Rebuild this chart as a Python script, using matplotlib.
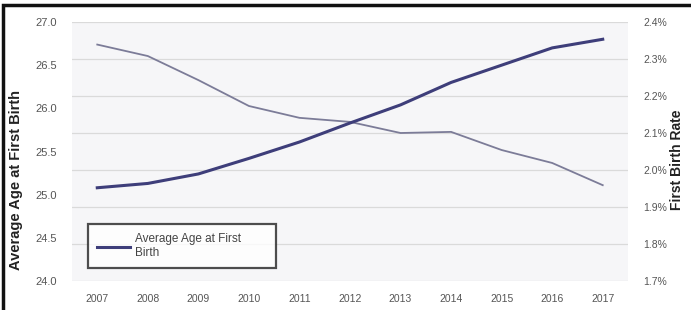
import matplotlib
import matplotlib.pyplot as plt
from matplotlib.patches import Rectangle
from matplotlib.ticker import FuncFormatter

years = [2007, 2008, 2009, 2010, 2011, 2012, 2013, 2014, 2015, 2016, 2017]
avg_age = [25.08, 25.13, 25.24, 25.42, 25.61, 25.83, 26.04, 26.30, 26.50, 26.70, 26.80]
birth_rate = [2.339, 2.308, 2.243, 2.173, 2.141, 2.130, 2.100, 2.103, 2.054, 2.019, 1.959]

age_ticks = [24.0, 24.5, 25.0, 25.5, 26.0, 26.5, 27.0]
rate_ticks = [1.7, 1.8, 1.9, 2.0, 2.1, 2.2, 2.3, 2.4]

plt.rcParams['font.family'] = ['Liberation Sans', 'DejaVu Sans']
label_color = '#555555'
W, H = 691.0, 310.0

fig = plt.figure(figsize=(6.91, 3.10), dpi=100)
ax = fig.add_axes([72 / W, 29 / H, 556 / W, 259 / H])
ax2 = ax.twinx()

# thin line: first birth rate on the right axis
ax2.plot(years, birth_rate, color='#7c7c98', linewidth=1.3)
ax2.set_ylim(1.7, 2.4)
ax2.set_yticks(rate_ticks)
ax2.yaxis.set_major_formatter(FuncFormatter(lambda v, p : f"{v:.1f}%"))
ax2.grid(True, color='#dadada', linewidth=0.9)
ax2.set_axisbelow(True)
ax2.patch.set_visible(True)
ax2.patch.set_facecolor('#f6f6f8')

# thick line: average age on the left axis
line, = ax.plot(years, avg_age, color='#3e3e7a', linewidth=2.2, zorder=5)
ax.set_zorder(ax2.get_zorder() + 1)
ax.patch.set_visible(False)
ax.set_ylim(24.0, 27.0)
ax.set_yticks(age_ticks)
ax.yaxis.set_major_formatter(FuncFormatter(lambda v, p : f"{v:.1f}"))
ax.set_xlim(2006.5, 2017.5)
ax.set_xticks(years)

for a in (ax, ax2) :
    for s in a.spines.values() :
        s.set_visible(False)
    a.tick_params(length=0, labelsize=7.5, labelcolor=label_color)
ax.tick_params(axis='x', pad=9)
ax.tick_params(axis='y', pad=11, labelsize=8)
ax2.tick_params(axis='y', pad=11)

leg = ax.legend([line], ['Average Age at First\nBirth'], loc='lower left',
                bbox_to_anchor=(16 / 556, 13 / 259, 188 / 556, 0.2), mode='expand',
                fontsize=8.5, frameon=True, fancybox=False, edgecolor='#222222',
                handlelength=2.8, handletextpad=0.4, borderpad=0.75,
                labelspacing=0.2, borderaxespad=0)
leg.get_frame().set_linewidth(1.6)
leg.get_frame().set_facecolor('white')
for t in leg.get_texts() :
    t.set_color('#444444')

fig.text(16 / W, 1 - 180 / H, 'Average Age at First Birth', rotation=90,
         ha='center', va='center', fontsize=10.5, fontweight='bold', color='#222222')
fig.text(677 / W, 1 - 160 / H, 'First Birth Rate', rotation=90,
         ha='center', va='center', fontsize=10, fontweight='bold', color='#222222')

# screenshot border on top and left
fig.patches.append(Rectangle((3 / W, -0.1), 1.2, 1.1 - 5 / H,
                             transform=fig.transFigure, fill=False,
                             edgecolor='#111111', linewidth=2.5))

fig.savefig('out.png', dpi=100)
